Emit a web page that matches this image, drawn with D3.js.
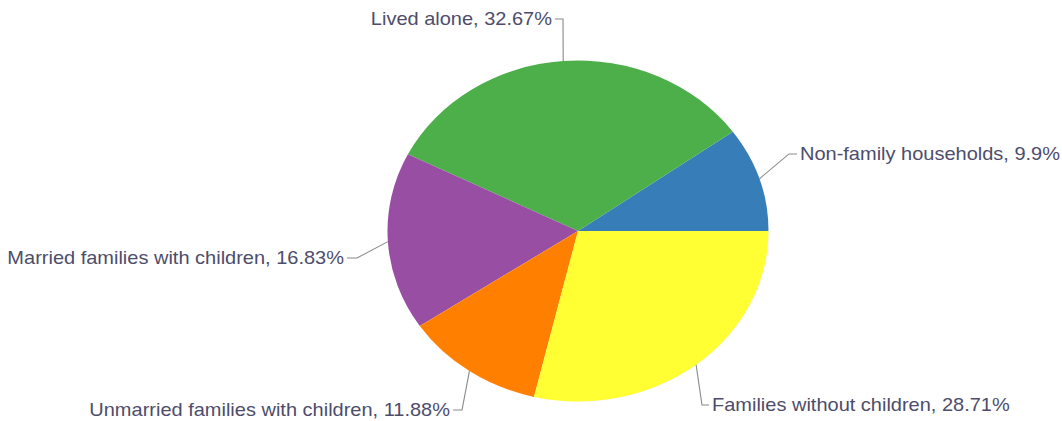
<!DOCTYPE html>
<html>
<head>
<meta charset="utf-8">
<script src="https://cdn.jsdelivr.net/npm/d3@7"></script>
<style>
  html, body { margin: 0; padding: 0; background: #ffffff; }
  svg { display: block; }
</style>
</head>
<body>
<svg id="chart" width="1062" height="421"></svg>
<script>
// Household types, share of households (%)
const categories = [
  "Non-family households",
  "Lived alone",
  "Married families with children",
  "Unmarried families with children",
  "Families without children"
];
const shares = [9.9, 32.67, 16.83, 11.88, 28.71];
const colors = ["#377eb8", "#4daf4a", "#984ea3", "#ff7f00", "#ffff33"];

// Label placement: y of the label line, x where the connector meets the text,
// length of the horizontal tick, and which side the text sits on.
const labelLayout = [
  { y: 154, x: 797, tick: 8,  side: "right" },
  { y: 19,  x: 555, tick: 8,  side: "left"  },
  { y: 258, x: 347, tick: 10, side: "left"  },
  { y: 410, x: 453, tick: 9,  side: "left"  },
  { y: 405, x: 709, tick: 7,  side: "right" }
];

const width = 1062, height = 421;
const cx = 578, cy = 231;          // pie centre
const ry = 170.5, rx = 190.5;      // vertical / horizontal radius
const sx = rx / ry;                // horizontal stretch of the drawing

const svg = d3.select("#chart");
const g = svg.append("g").attr("transform", `scale(${sx},1)`);

const pie = d3.pie()
  .value(d => d)
  .sort(null)
  .startAngle(Math.PI / 2)
  .endAngle(Math.PI / 2 - 2 * Math.PI);

const arcs = pie(shares);
const arc = d3.arc().innerRadius(0).outerRadius(ry);

const pieG = g.append("g").attr("transform", `translate(${cx / sx},${cy})`);
pieG.selectAll("path")
  .data(arcs)
  .join("path")
  .attr("d", arc)
  .attr("fill", (d, i) => colors[i]);

// Connectors and labels
const labelG = g.append("g");
arcs.forEach((d, i) => {
  const mid = (d.startAngle + d.endAngle) / 2;
  const ex = cx / sx + ry * Math.sin(mid);
  const ey = cy - ry * Math.cos(mid);
  const L = labelLayout[i];
  const dir = L.side === "right" ? 1 : -1;
  const tx = L.x / sx;
  const elbowX = (L.x - dir * L.tick) / sx;

  labelG.append("path")
    .attr("d", `M${ex},${ey}L${elbowX},${L.y}L${tx},${L.y}`)
    .attr("fill", "none")
    .attr("stroke", "#8a8a8a")
    .attr("stroke-width", 1);

  labelG.append("text")
    .attr("x", tx + dir * 3 / sx)
    .attr("y", L.y)
    .attr("dy", "0.35em")
    .attr("text-anchor", L.side === "right" ? "start" : "end")
    .attr("font-family", "'Liberation Sans', Arial, sans-serif")
    .attr("font-size", "17.9px")
    .attr("fill", "#4d4d6b")
    .text(`${categories[i]}, ${shares[i]}%`);
});
</script>
</body>
</html>
